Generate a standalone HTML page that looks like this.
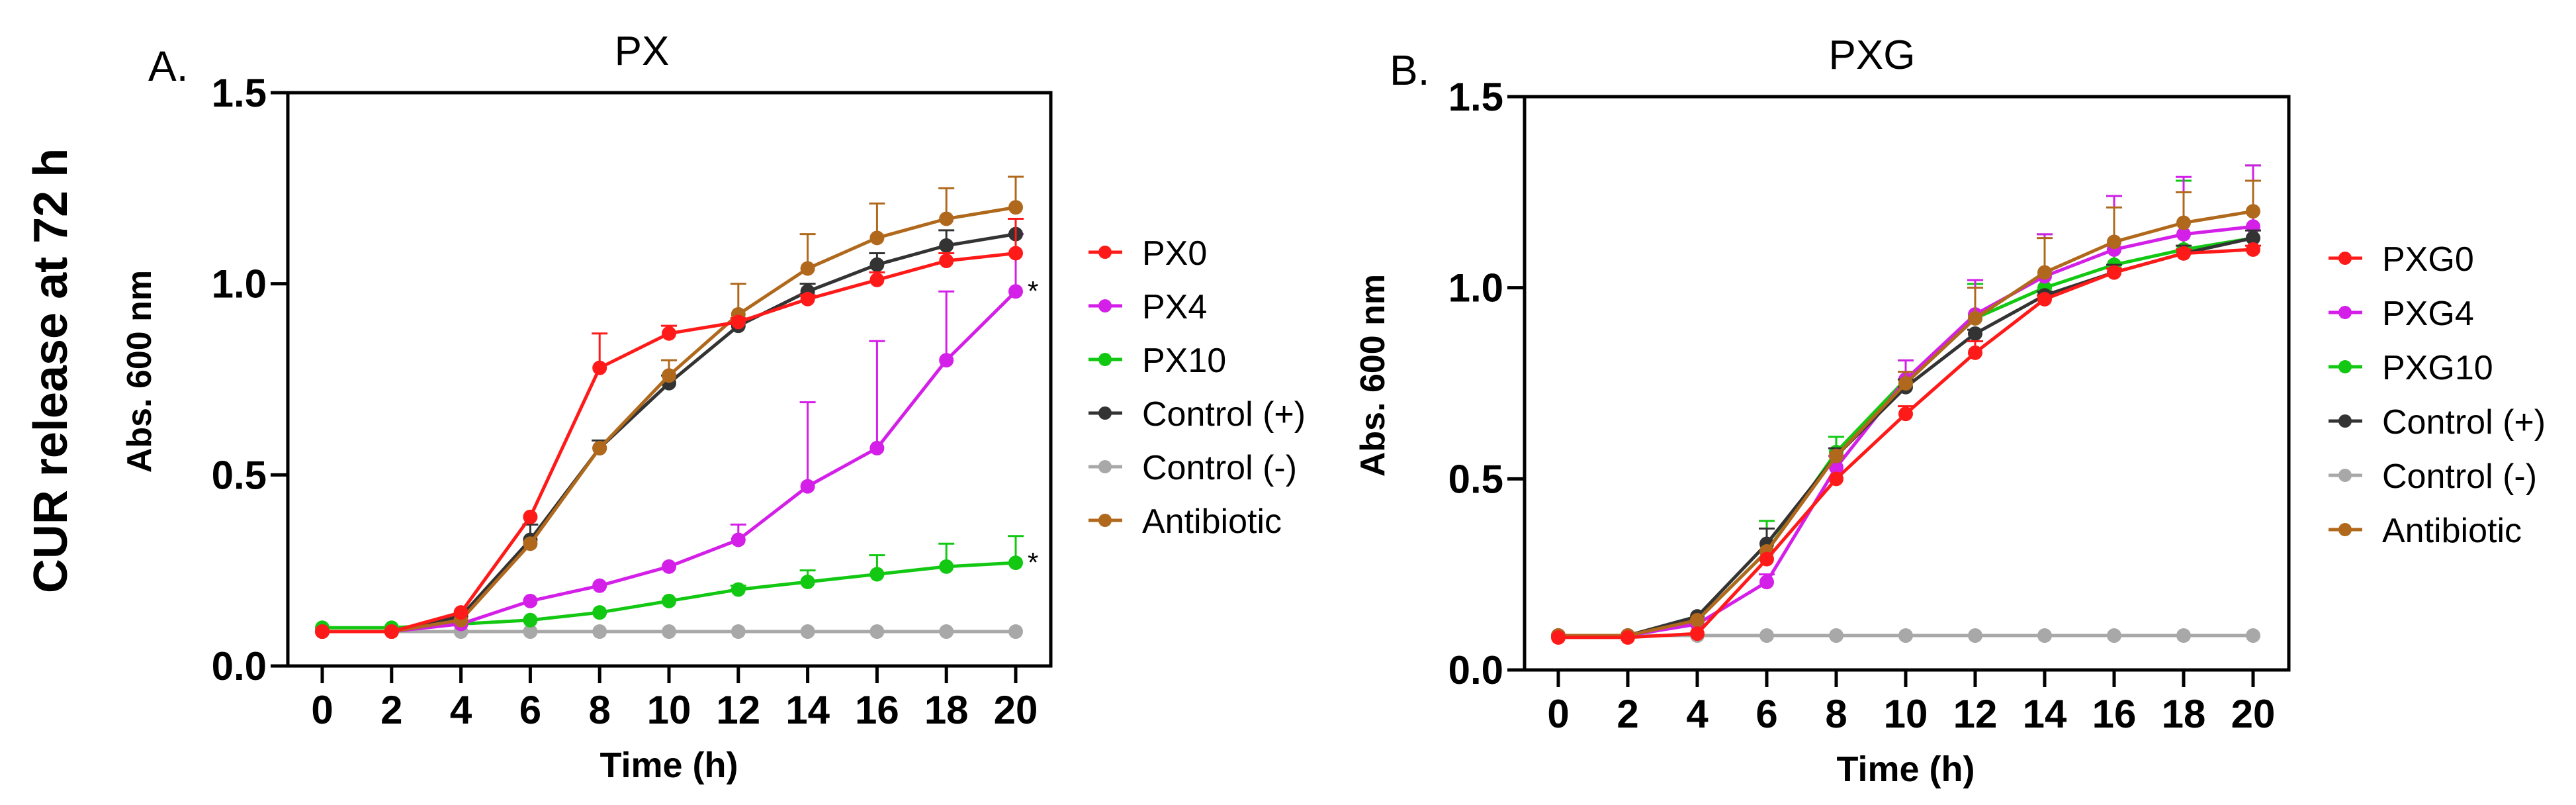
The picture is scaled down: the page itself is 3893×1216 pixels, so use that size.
<!DOCTYPE html>
<html><head><meta charset="utf-8"><style>
html,body{margin:0;padding:0;background:#fff}
svg{display:block;font-family:"Liberation Sans",sans-serif}
</style></head><body>
<svg id="chart" width="3893" height="1216" viewBox="0 0 3893 1216" xmlns="http://www.w3.org/2000/svg">
<text x="0" y="0" transform="translate(101,560) rotate(-90)" text-anchor="middle" font-size="72" font-weight="bold">CUR release at 72 h</text>
</svg>
<script>
const times = [0,2,4,6,8,10,12,14,16,18,20];
const yTicks = [0,0.5,1.0,1.5];
const yTickLabels = ["0.0","0.5","1.0","1.5"];
const seriesNamesA = ["PX0","PX4","PX10","Control (+)","Control (-)","Antibiotic"];
const seriesNamesB = ["PXG0","PXG4","PXG10","Control (+)","Control (-)","Antibiotic"];
const colors = ["#ff1a1a","#d41fe8","#12c812","#333333","#a8a8a8","#b0691c"];
const pxA0 = [0.09,0.09,0.14,0.39,0.78,0.87,0.90,0.96,1.01,1.06,1.08];
const pxA4 = [0.09,0.09,0.11,0.17,0.21,0.26,0.33,0.47,0.57,0.80,0.98];
const pxA10 = [0.10,0.10,0.11,0.12,0.14,0.17,0.20,0.22,0.24,0.26,0.27];
const pxACp = [0.09,0.09,0.13,0.33,0.57,0.74,0.89,0.98,1.05,1.10,1.13];
const pxACn = [0.09,0.09,0.09,0.09,0.09,0.09,0.09,0.09,0.09,0.09,0.09];
const pxAAb = [0.09,0.09,0.12,0.32,0.57,0.76,0.92,1.04,1.12,1.17,1.20];
const errA0 = [0,0,0,0,0.09,0.02,0.01,0.01,0.02,0.02,0.09];
const errA4 = [0,0,0,0,0,0,0.04,0.22,0.28,0.18,0.15];
const errA10 = [0,0,0,0,0,0,0.01,0.03,0.05,0.06,0.07];
const errACp = [0,0,0,0.04,0.02,0.02,0,0.02,0.03,0.04,0.04];
const errACn = [0,0,0,0,0,0,0,0,0,0,0];
const errAAb = [0,0,0,0,0,0.04,0.08,0.09,0.09,0.08,0.08];
const pxB0 = [0.085,0.085,0.095,0.29,0.50,0.67,0.83,0.97,1.04,1.09,1.10];
const pxB4 = [0.09,0.09,0.12,0.23,0.53,0.76,0.93,1.03,1.10,1.14,1.16];
const pxB10 = [0.09,0.09,0.13,0.31,0.57,0.76,0.92,1.00,1.06,1.10,1.13];
const pxBCp = [0.09,0.09,0.14,0.33,0.56,0.74,0.88,0.98,1.04,1.09,1.13];
const pxBCn = [0.09,0.09,0.09,0.09,0.09,0.09,0.09,0.09,0.09,0.09,0.09];
const pxBAb = [0.09,0.09,0.13,0.31,0.56,0.75,0.92,1.04,1.12,1.17,1.20];
const errB0 = [0,0,0,0,0,0.02,0.03,0.01,0.01,0.01,0.01];
const errB4 = [0,0,0,0.02,0.03,0.05,0.09,0.11,0.14,0.15,0.16];
const errB10 = [0,0,0,0.08,0.04,0.05,0.09,0.14,0.18,0.18,0.19];
const errBCp = [0,0,0,0.04,0.02,0.02,0.01,0.01,0.02,0.02,0.02];
const errBCn = [0,0,0,0,0,0,0,0,0,0,0];
const errBAb = [0,0,0,0,0,0.03,0.08,0.09,0.09,0.08,0.08];

const NS="http://www.w3.org/2000/svg";
const svg=document.getElementById('chart');
function mk(tag,attrs,parent){const e=document.createElementNS(NS,tag);for(const k in attrs)e.setAttribute(k,attrs[k]);(parent||svg).appendChild(e);return e;}

function panel(p){
  const g=mk('g',{});
  
  
  const xs=t=>p.x0+(p.x20-p.x0)*t/20;
  const ys=v=>p.yb-(p.yb-p.yt)*v/1.5;
  let t=mk('text',{x:p.tx,y:p.yt-42,'text-anchor':'middle','font-size':62},g);t.textContent=p.title;
  
  
  t=mk('text',{x:p.lx,y:p.yt-18,'font-size':64},g);t.textContent=p.letter;
  
  
  const fr=mk('rect',{x:p.L,y:p.yt,width:p.R-p.L,height:p.yb-p.yt,fill:'none',stroke:'#000','stroke-width':5},g);
  
  
  yTicks.forEach((v,i)=>{
    const y=ys(v);
    mk('line',{x1:p.L-26,x2:p.L,y1:y,y2:y,stroke:'#000','stroke-width':5},g);
    const tl=mk('text',{x:p.L-32,y:y+21,'text-anchor':'end','font-size':60,'font-weight':'bold'},g);
    tl.textContent=yTickLabels[i];
    
    
  });
  times.forEach(tm=>{
    const x=xs(tm);
    mk('line',{x1:x,x2:x,y1:p.yb,y2:p.yb+26,stroke:'#000','stroke-width':5},g);
    const tl=mk('text',{x:x,y:p.yb+87,'text-anchor':'middle','font-size':60,'font-weight':'bold'},g);
    tl.textContent=String(tm);
    
    
  });
  t=mk('text',{x:(p.x0+p.x20)/2,y:p.yb+168,'text-anchor':'middle','font-size':54,'font-weight':'bold'},g);t.textContent='Time (h)';
  
  
  t=mk('text',{x:0,y:0,transform:`translate(${p.ax},${(p.yt+p.yb)/2-12}) rotate(-90)`,'text-anchor':'middle','font-size':52,'font-weight':'bold'},g);t.textContent='Abs. 600 nm';
  
  
  const order=[4,2,1,3,5,0];
  order.forEach(si=>{
    const vals=p.data[si],errs=p.errs[si],col=colors[si];
    const sg=mk('g',{},g);
    
    
    vals.forEach((v,i)=>{
      if(errs[i]>0){
        const x=xs(times[i]);
        mk('line',{x1:x,x2:x,y1:ys(v),y2:ys(v+errs[i]),stroke:col,'stroke-width':3},sg);
        mk('line',{x1:x-12,x2:x+12,y1:ys(v+errs[i]),y2:ys(v+errs[i]),stroke:col,'stroke-width':3},sg);
      }
    });
    mk('polyline',{points:vals.map((v,i)=>xs(times[i])+','+ys(v)).join(' '),fill:'none',stroke:col,'stroke-width':5},sg);
    vals.forEach((v,i)=>{
      const c=mk('circle',{cx:xs(times[i]),cy:ys(v),r:11,fill:col},sg);
      
      
    });
  });
  (p.stars||[]).forEach(si=>{
    const v=p.data[si][10];
    const s=mk('text',{x:xs(20)+18,y:ys(v)+14,'font-size':42},g);s.textContent='*';
    
    
  });
  p.names.forEach((n,i)=>{
    const y=p.legY+i*p.legDy;
    const lg=mk('g',{},g);
    
    
    mk('line',{x1:p.legX-25,x2:p.legX+26,y1:y,y2:y,stroke:colors[i],'stroke-width':5},lg);
    mk('circle',{cx:p.legX,cy:y,r:10,fill:colors[i]},lg);
    const tx=mk('text',{x:p.legX+56,y:y+19,'font-size':52},lg);tx.textContent=n;
  });
}
panel({key:'px',title:'PX',letter:'A.',tx:970,lx:224,L:435,R:1588,yt:140,yb:1006,x0:487,x20:1535,ax:228,
  data:[pxA0,pxA4,pxA10,pxACp,pxACn,pxAAb],errs:[errA0,errA4,errA10,errACp,errACn,errAAb],
  names:seriesNamesA,stars:[1,2],legX:1670,legY:381,legDy:81});
panel({key:'pxg',title:'PXG',letter:'B.',tx:2829,lx:2100,L:2304,R:3459,yt:146,yb:1012,x0:2355,x20:3405,ax:2092,
  data:[pxB0,pxB4,pxB10,pxBCp,pxBCn,pxBAb],errs:[errB0,errB4,errB10,errBCp,errBCn,errBAb],
  names:seriesNamesB,legX:3544,legY:390,legDy:82});
</script>
</body></html>
